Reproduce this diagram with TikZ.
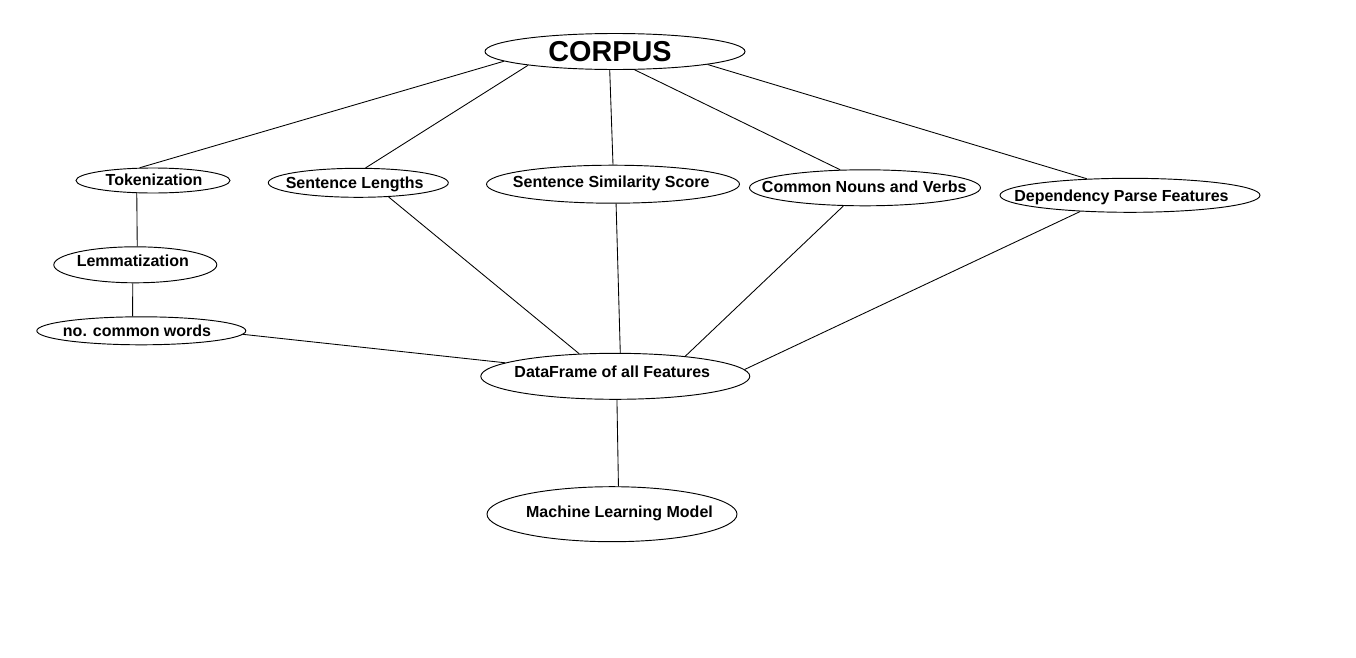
\documentclass[tikz,border=0pt]{standalone}
\usepackage{fontspec}
\setmainfont{Liberation Sans}
\usetikzlibrary{shapes.geometric}
% text inside an ellipse: #1 = twice the x offset, #2 = upward shift, #3 = text
\newcommand\ellipsetext[3]{\makebox[0pt]{\hspace{#1}\raisebox{\dimexpr #2-0.36em\relax}[0pt][0pt]{#3}}}
\tikzset{
  oval/.style={draw=black, line width=0.7pt, ellipse, inner sep=0pt, fill=white,
    font=\fontsize{12}{14}\selectfont\bfseries},
  link/.style={draw=black, line width=0.65pt}
}
\begin{document}
\begin{tikzpicture}[x=0.75pt,y=-0.75pt]
\fill[white] (0,0) rectangle (1356,657);
\useasboundingbox (0,0) rectangle (1356,657);

\node[oval, minimum width=195pt, minimum height=27pt, font=\fontsize{21.6}{24}\selectfont\bfseries] (corpus) at (615,51.5) {\ellipsetext{-7.5pt}{0pt}{CORPUS}};
\node[oval, minimum width=115.5pt, minimum height=18.75pt] (tok) at (153,180.5) {\ellipsetext{1.5pt}{0.75pt}{Tokenization}};
\node[oval, minimum width=135pt, minimum height=21.75pt] (sl) at (358.3,182.8) {\ellipsetext{-5.4pt}{0pt}{Sentence Lengths}};
\node[oval, minimum width=189.75pt, minimum height=28.5pt] (sim) at (613,184.2) {\ellipsetext{-2.7pt}{1.9pt}{Sentence Similarity Score}};
\node[oval, minimum width=173.25pt, minimum height=27pt] (nouns) at (865,187.8) {\ellipsetext{-1.2pt}{0.6pt}{Common Nouns and Verbs}};
\node[oval, minimum width=195pt, minimum height=25.5pt] (dep) at (1130,195.3) {\ellipsetext{-12.75pt}{0pt}{Dependency Parse Features}};
\node[oval, minimum width=122.25pt, minimum height=27pt] (lem) at (135.3,264.8) {\ellipsetext{-3.75pt}{3.2pt}{Lemmatization}};
\node[oval, minimum width=156.75pt, minimum height=21pt] (ncw) at (141.3,330.8) {\ellipsetext{-6.4pt}{0.2pt}{no. common words}};
\node[oval, minimum width=201.75pt, minimum height=34.5pt] (df) at (615.3,376.3) {\ellipsetext{-4.5pt}{3.4pt}{DataFrame of all Features}};
\node[oval, minimum width=187.5pt, minimum height=41.25pt] (ml) at (612,514.2) {\ellipsetext{11.25pt}{2.2pt}{Machine Learning Model}};

\draw[link] (corpus.185.7) -- (tok.136.1);
\draw[link] (corpus.189.7) -- (sl.64);
\draw[link] (corpus.254.9) -- (sim.90);
\draw[link] (corpus.317.5) -- (nouns.144.5);
\draw[link] (corpus.352.6) -- (dep.159.1);
\draw[link] (tok.218) -- (lem.84.5);
\draw[link] (lem.262.4) -- (ncw.121);
\draw[link] (ncw.358.2) -- (df.173.4);
\draw[link] (sl.335.9) -- (df.148.7);
\draw[link] (sim.279) -- (df.78.6);
\draw[link] (nouns.220.7) -- (df.16.7);
\draw[link] (dep.198.6) -- (df.3.6);
\draw[link] (df.274) -- (ml.77.5);
\end{tikzpicture}
\end{document}
